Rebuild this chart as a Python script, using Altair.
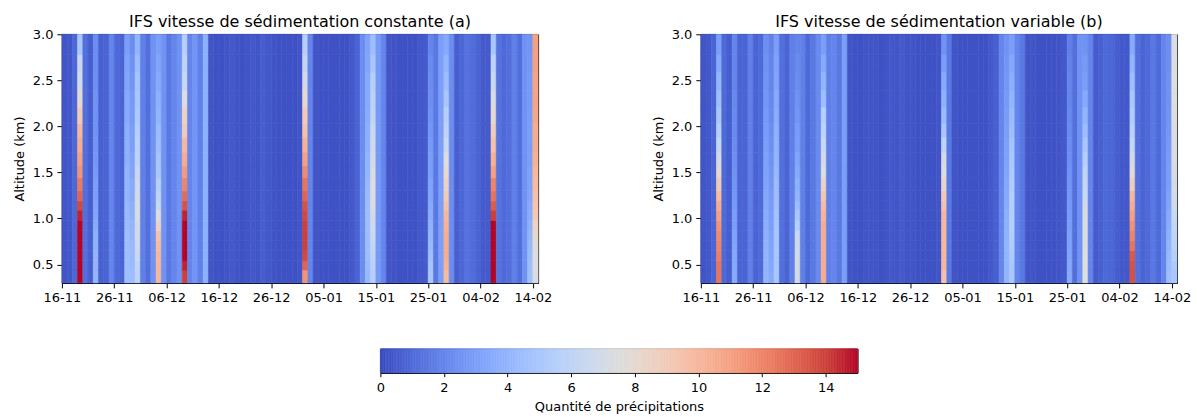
import json
import numpy as np
import pandas as pd
import altair as alt

# ---------------- data ----------------
# altitude cell edges (km), bottom -> top
EDGES = [0.30, 0.44, 0.54, 0.65, 0.76, 0.87, 0.98, 1.09, 1.19, 1.30,
         1.44, 1.57, 1.72, 1.88, 2.03, 2.21, 2.39, 2.59, 2.78, 3.00]

# day labels (one every 10 days, day 0 = 16-11)
XLABELS = ['16-11', '26-11', '06-12', '16-12', '26-12',
           '05-01', '15-01', '25-01', '04-02', '14-02']
N_DAYS = 91

N = None
# (a) constant sedimentation speed : value of vertically uniform columns
BASE_A = [0.3, 0.4, 0.9, N, 1.2, 0.6, N, 0.7, 0.8, 2.0,
          1.0, 0.8, N, N, N, 1.8, 1.2, 2.5, N, 2.5,
          1.5, 2.0, 2.5, N, 2.0, 2.6, 1.8, 3.8, 0.3, 0.2,
          0.2, 0.3, 0.4, 0.3, 0.2, 0.3, 0.4, 0.3, 0.6, 0.4,
          0.3, 0.2, 0.2, 0.2, 0.2, 0.3, N, 2.0, 0.3, 0.2,
          0.2, 0.2, 0.2, 0.2, 0.2, 0.4, 0.8, 2.3, N, N,
          2.8, 2.0, 0.3, 0.3, 0.2, 0.2, 0.2, 0.2, 0.4, 0.5,
          N, 1.5, 3.0, N, 2.3, 0.6, 0.9, 1.3, 1.1, 0.8,
          0.5, 0.5, N, 1.3, 1.0, 1.2, 1.8, 1.2, 2.5, N,
          N]
# (a) columns with a vertical profile (bottom -> top, one value per cell)
PROF_A = {
    3:  [15, 15, 15, 15, 15, 15, 14.5, 13.8, 13, 12.3, 11.5, 11, 10.5, 10, 9, 8, 7, 6.5, 5],
    6:  [4, 4, 4, 3.8, 3.7, 3.5, 3.3, 3.2, 3, 3, 2.8, 2.7, 2.6, 2.5, 2.5, 2.5, 2.4, 2.3, 2.3],
    12: [4.5, 4.5, 4.5, 4.5, 4.5, 4.3, 4.2, 4.2, 4, 4, 4, 3.8, 3.8, 3.7, 3.5, 3.5, 3.3, 3.2, 3],
    13: [4.5, 4.3, 4.2, 4.2, 4, 4, 3.8, 3.7, 3.5, 3.5, 3.3, 3.2, 3, 3, 2.8, 2.8, 2.6, 2.5, 2.3],
    14: [6, 6.2, 6.5, 6.8, 7, 7, 7.2, 7.2, 7, 6.8, 6.5, 6, 5.8, 5.5, 5.2, 5, 4.8, 4.5, 4],
    18: [10, 10, 10, 9.8, 9.5, 8.5, 7.5, 6.5, 6, 5.5, 5, 4.8, 4.5, 4.3, 4, 3.8, 3.5, 3.3, 3],
    23: [14, 14.5, 15, 15, 15, 15, 14.5, 13.5, 12.8, 12, 11.2, 10.5, 10, 9, 8.5, 7.5, 6.5, 6, 5.5],
    46: [11.5, 13, 13.8, 14, 14, 14, 13.8, 13.5, 13, 12.5, 11.8, 11, 10.3, 9.5, 9, 8, 7, 6.2, 5.5],
    58: [4.2, 4.3, 4.5, 4.5, 4.5, 4.5, 4.5, 4.5, 4.3, 4.2, 4, 4, 3.8, 3.7, 3.6, 3.5, 3.5, 3.3, 3.2],
    59: [5.5, 5.8, 6, 6.2, 6.5, 6.8, 7, 7.3, 7.5, 7.5, 7.3, 7, 6.8, 6.5, 6, 5.8, 5.5, 5, 4.5],
    70: [5, 4.8, 4.5, 4.2, 4, 3.8, 3.6, 3.5, 3.3, 3.2, 3, 3, 2.8, 2.7, 2.5, 2.4, 2.3, 2.2, 2],
    73: [9.8, 10.2, 10.5, 10.5, 10.5, 10.3, 10, 9.5, 9, 8.5, 8, 7.5, 6.5, 6, 5.5, 5, 4.5, 4, 3.5],
    82: [15, 15, 15, 15, 15, 15, 14, 13.2, 12.5, 12, 11, 10.3, 9.5, 8.8, 8, 7.2, 6.5, 6, 5],
    89: [4.5, 4.5, 4.3, 4.2, 4, 3.8, 3.6, 3.5, 3.3, 3.2, 3.1, 3, 3, 3, 2.9, 2.8, 2.8, 2.7, 2.6],
    90: [7.3, 7.5, 7.5, 7.8, 8.2, 8.5, 9, 9.3, 9.5, 9.8, 10, 10.3, 10.5, 10.5, 10.7, 10.8, 10.8, 11, 11],
}

# (b) variable sedimentation speed
BASE_B = [0.3, 0.4, 0.8, N, 1.0, 0.6, N, 0.8, 0.8, 1.8,
          0.8, 1.0, N, N, N, 1.2, 0.8, 1.8, N, 1.8,
          1.0, 1.5, 2.2, N, 1.8, 2.0, 1.5, 3.0, 0.3, 0.2,
          0.2, 0.3, 0.3, 0.3, 0.2, 0.3, 0.4, 0.3, 0.5, 0.3,
          0.3, 0.2, 0.2, 0.2, 0.2, 0.3, N, 1.5, 0.3, 0.2,
          0.2, 0.2, 0.2, 0.2, 0.2, 0.4, 0.7, 2.0, N, N,
          2.0, 1.5, 0.3, 0.3, 0.2, 0.2, 0.2, 0.2, 0.3, 0.4,
          N, 1.2, 2.5, N, 2.0, 0.5, 0.7, 1.0, 0.9, 0.6,
          0.4, 0.4, N, 1.2, 0.8, 1.0, 1.5, 1.0, 2.0, N,
          N]
PROF_B = {
    3:  [12.5, 12.5, 12.2, 12, 11.8, 11.5, 11, 10.5, 9.8, 9, 8, 7, 6.3, 5.5, 5, 4.5, 4, 3.5, 3],
    6:  [3.5, 3.5, 3.4, 3.3, 3.2, 3, 3, 2.8, 2.7, 2.6, 2.5, 2.4, 2.3, 2.2, 2.2, 2.1, 2, 2, 2],
    12: [4, 4, 4, 3.9, 3.8, 3.7, 3.6, 3.5, 3.4, 3.3, 3.2, 3.1, 3, 2.9, 2.8, 2.7, 2.6, 2.5, 2.4],
    13: [3.5, 3.4, 3.3, 3.2, 3.1, 3, 3, 2.9, 2.8, 2.7, 2.6, 2.5, 2.4, 2.3, 2.2, 2.1, 2, 2, 1.9],
    14: [5, 5, 5, 5, 4.9, 4.8, 4.7, 4.6, 4.5, 4.4, 4.2, 4, 3.9, 3.8, 3.6, 3.5, 3.3, 3.2, 3],
    18: [7, 7, 7, 6.8, 6.5, 5.5, 5, 4.5, 4, 3.8, 3.5, 3.3, 3, 2.9, 2.7, 2.5, 2.3, 2.2, 2],
    23: [10.5, 10.5, 10.5, 10.5, 10.5, 10.5, 10.2, 9.8, 9.3, 8.5, 7.5, 7, 6.5, 6, 5.5, 4.5, 4, 3.5, 3],
    46: [9.5, 10, 10, 10, 10, 10, 10, 9.5, 9, 8.3, 7.5, 7, 6, 5, 4.3, 3.8, 3.5, 3, 2.5],
    58: [4, 4, 4, 4, 3.9, 3.8, 3.7, 3.6, 3.5, 3.4, 3.3, 3.2, 3.1, 3, 2.9, 2.8, 2.7, 2.6, 2.5],
    59: [5, 5, 5.2, 5.3, 5.4, 5.5, 5.5, 5.5, 5.5, 5.3, 5.2, 5, 4.8, 4.5, 4.3, 4, 3.7, 3.4, 3],
    70: [3.5, 3.4, 3.3, 3.2, 3.1, 3, 2.9, 2.8, 2.7, 2.6, 2.5, 2.4, 2.3, 2.2, 2.1, 2, 2, 1.9, 1.8],
    73: [7.5, 7.5, 7.5, 7.4, 7.3, 7.3, 7.2, 7, 6.5, 6.3, 6, 5.5, 5, 4.5, 4, 3.5, 3, 2.8, 2.5],
    82: [13.5, 13.5, 13.3, 12.5, 12, 11.5, 11, 10.5, 10, 8.8, 7.8, 7, 6.3, 5.8, 5.3, 5, 4.5, 4, 3.5],
    89: [4.5, 4.4, 4.2, 4, 3.8, 3.6, 3.5, 3.3, 3.2, 3, 3, 2.9, 2.8, 2.7, 2.6, 2.5, 2.5, 2.4, 2.4],
    90: [5, 5.2, 5.5, 5.8, 6, 6.2, 6.5, 6.8, 7, 7, 7.2, 7.3, 7.3, 7.4, 7.5, 7.5, 7.5, 7.5, 7.3],
}

TITLE_A = "IFS vitesse de sédimentation constante (a)"
TITLE_B = "IFS vitesse de sédimentation variable (b)"
CB_TITLE = "Quantité de précipitations"

# matplotlib "coolwarm"
COOLWARM = ['#3b4cc0', '#4d68d7', '#6282ea', '#779af7', '#8db0fe', '#a3c2ff',
            '#b8d0f9', '#cad8ee', '#dddddd', '#ecd3c5', '#f5c4ad', '#f7b194',
            '#f49a7b', '#ec7f63', '#de604d', '#cb3e38', '#b40426']
VMIN, VMAX = 0, 15

# ---------------- build tables ----------------
def build(base, prof):
    rows = []
    nlev = len(EDGES) - 1
    for d in range(N_DAYS):
        vals = prof[d] if d in prof else [base[d]] * nlev
        for r in range(nlev):
            rows.append({'x0': d, 'x1': d + 1, 'y0': EDGES[r], 'y1': EDGES[r + 1], 'v': vals[r]})
    return pd.DataFrame(rows)

dfa = build(BASE_A, PROF_A)
dfb = build(BASE_B, PROF_B)

cdom = list(np.linspace(VMIN, VMAX, len(COOLWARM)))
cscale = alt.Scale(domain=cdom, range=COOLWARM, interpolate='rgb', clamp=True)

label_expr = json.dumps(XLABELS) + "[round(datum.value/10)]"

FONT = 'DejaVu Sans'
PW, PH = 477, 249


def panel(df, title):
    return alt.Chart(df, title=alt.Title(title)).mark_rect(strokeWidth=0.6).encode(
        x=alt.X('x0:Q', scale=alt.Scale(domain=[0, N_DAYS], nice=False, zero=False),
                axis=alt.Axis(values=list(range(0, N_DAYS, 10)), labelExpr=label_expr, title=None,
                              labelOverlap=False, labelFlush=False)),
        x2='x1:Q',
        y=alt.Y('y0:Q', scale=alt.Scale(domain=[EDGES[0], EDGES[-1]], nice=False, zero=False),
                axis=alt.Axis(values=[0.5, 1.0, 1.5, 2.0, 2.5, 3.0], format='.1f',
                              title='Altitude (km)', titlePadding=6,
                              labelOverlap=False, labelFlush=False)),
        y2='y1:Q',
        color=alt.Color('v:Q', scale=cscale, legend=None),
        stroke=alt.Stroke('v:Q', scale=cscale, legend=None),
    ).properties(width=PW, height=PH)


pa = panel(dfa, TITLE_A)
pb = panel(dfb, TITLE_B)

cb_vals = np.arange(VMIN, VMAX, 0.05)
cb_df = pd.DataFrame({'v': cb_vals, 'v2': cb_vals + 0.05})
colorbar = alt.Chart(cb_df).mark_rect(strokeWidth=0.6).encode(
    x=alt.X('v:Q', scale=alt.Scale(domain=[VMIN, VMAX], nice=False, zero=False),
            axis=alt.Axis(values=list(range(0, 15, 2)), title=CB_TITLE,
                          tickSize=4, labelPadding=5, titlePadding=6,
                          labelOverlap=False, labelFlush=False)),
    x2='v2:Q',
    color=alt.Color('v:Q', scale=cscale, legend=None),
    stroke=alt.Stroke('v:Q', scale=cscale, legend=None),
).properties(width=478, height=24)

spacer = alt.Chart(pd.DataFrame({'s': [0]})).mark_point(opacity=0).encode(
    x=alt.X('s:Q', axis=None), y=alt.Y('s:Q', axis=None)
).properties(width=313, height=24, view=alt.ViewBackground(stroke='transparent'))

chart = alt.vconcat(
    alt.hconcat(pa, pb, spacing=98),
    alt.hconcat(spacer, colorbar, spacing=0),
    spacing=42,
).properties(
    padding={'left': 12, 'top': 13, 'right': 5, 'bottom': 5}
).configure_axis(
    labelFont=FONT, titleFont=FONT, labelFontSize=13, titleFontSize=13,
    titleFontWeight='normal', labelColor='black', titleColor='black',
    tickColor='black', domainColor='black', tickSize=5, labelPadding=4, grid=False,
).configure_title(
    font=FONT, fontSize=16, fontWeight='normal', color='black', anchor='middle', offset=-2,
).configure_view(
    stroke='black', strokeWidth=1,
)

chart.save("out.html", embed_options={"renderer": "svg", "actions": False})
